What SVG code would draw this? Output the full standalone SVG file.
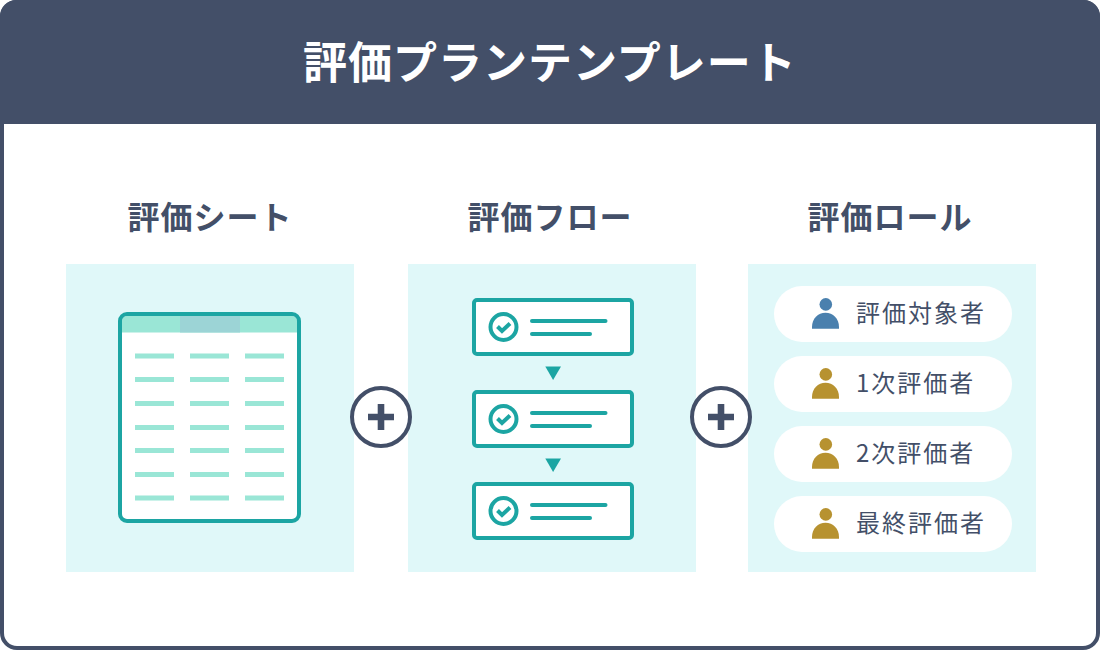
<svg xmlns="http://www.w3.org/2000/svg" width="1100" height="650" viewBox="0 0 1100 650">
<style>
text{font-family:"Noto Sans CJK JP","Noto Sans",sans-serif}
.title{font-size:44px;font-weight:700;fill:#fff;letter-spacing:1px}
.head{font-size:32px;font-weight:700;fill:#434F68;letter-spacing:1px;text-anchor:middle}
.label{font-size:24px;font-weight:400;fill:#434F68;letter-spacing:2px}
.panel{fill:#E0F8F9}
.ln{fill:#9AE6D6}
.card{fill:#fff;stroke:#1CA5A3;stroke-width:4}
.teal{fill:#1CA5A3}
.chk{fill:none;stroke:#1CA5A3;stroke-width:4}
.pill{fill:#fff}
.blue{fill:#4A80AE}
.gold{fill:#B79230}
</style>
<defs>
<g id="row"><rect x="135" width="39" height="5" class="ln"/><rect x="190" width="39" height="5" class="ln"/><rect x="245" width="39" height="5" class="ln"/></g>
<g id="flowcard">
<rect x="474" y="300" width="158" height="54" rx="3" class="card"/>
<circle cx="503.5" cy="327" r="13" class="chk"/>
<path d="M497.500 326.500L502 331L510 323.500" class="chk"/>
<rect x="530" y="319" width="77.500" height="4" rx="2" class="teal"/>
<rect x="530" y="332" width="62" height="4" rx="2" class="teal"/>
</g>
<g id="person"><circle cx="825.800" cy="304.400" r="6.300"/><path d="M812 328.800V327C812 318.500 818 312.800 825.500 312.800S839 318.500 839 327V328.800Z"/></g>
<g id="plus"><circle r="29" fill="#fff" stroke="#434F68" stroke-width="4"/><path d="M-13-3.300H-3.300V-13H3.300V-3.300H13V3.300H3.300V13H-3.300V3.300H-13Z" fill="#434F68"/></g>
</defs>
<rect width="1100" height="650" fill="#fff"/>
<g id="frame">
<rect x="2" y="2" width="1096" height="646" rx="15" fill="#fff" stroke="#434F68" stroke-width="4"/>
<path d="M0 124V16A16 16 0 0 1 16 0H1084A16 16 0 0 1 1100 16V124Z" fill="#434F68"/>
<text class="title" x="303" y="79">評価プランテンプレート</text>
</g>
<g id="sheet">
<text class="head" x="210" y="229">評価シート</text>
<rect class="panel" x="66" y="264" width="288" height="308"/>
<rect x="120" y="314" width="179" height="207" rx="7" fill="#fff"/>
<path d="M122 332.500V321A5 5 0 0 1 127 316H292A5 5 0 0 1 297 321V332.500Z" fill="#9AE6D6"/>
<rect x="180" y="316" width="60" height="16.500" fill="#9CD4D6"/>
<rect x="120" y="314" width="179" height="207" rx="7" fill="none" stroke="#1CA5A3" stroke-width="4"/>
<use href="#row" y="353.500"/><use href="#row" y="377"/><use href="#row" y="401"/><use href="#row" y="425"/><use href="#row" y="448"/><use href="#row" y="472"/><use href="#row" y="495.500"/>
</g>
<g id="flow">
<text class="head" x="550" y="229">評価フロー</text>
<rect class="panel" x="408" y="264" width="288" height="308"/>
<use href="#flowcard"/>
<use href="#flowcard" y="92"/>
<use href="#flowcard" y="184"/>
<path class="teal" d="M545.300 366.500H561L553.100 380Z"/>
<path class="teal" d="M545.300 458.500H561L553.100 472Z"/>
</g>
<g id="roles">
<text class="head" x="890" y="229">評価ロール</text>
<rect class="panel" x="748" y="264" width="288" height="308"/>
<g id="role1"><rect class="pill" x="774" y="286" width="238" height="56" rx="28"/><use href="#person" class="blue"/><text class="label" x="856" y="322">評価対象者</text></g>
<g id="role2"><rect class="pill" x="774" y="356" width="238" height="56" rx="28"/><use href="#person" y="70" class="gold"/><text class="label" x="856" y="392">1次評価者</text></g>
<g id="role3"><rect class="pill" x="774" y="426" width="238" height="56" rx="28"/><use href="#person" y="140" class="gold"/><text class="label" x="856" y="462">2次評価者</text></g>
<g id="role4"><rect class="pill" x="774" y="496" width="238" height="56" rx="28"/><use href="#person" y="210" class="gold"/><text class="label" x="856" y="532">最終評価者</text></g>
</g>
<g id="plus1"><use href="#plus" x="381" y="417"/></g>
<g id="plus2"><use href="#plus" x="721" y="417"/></g>
<g id="connectors"></g>
</svg>
